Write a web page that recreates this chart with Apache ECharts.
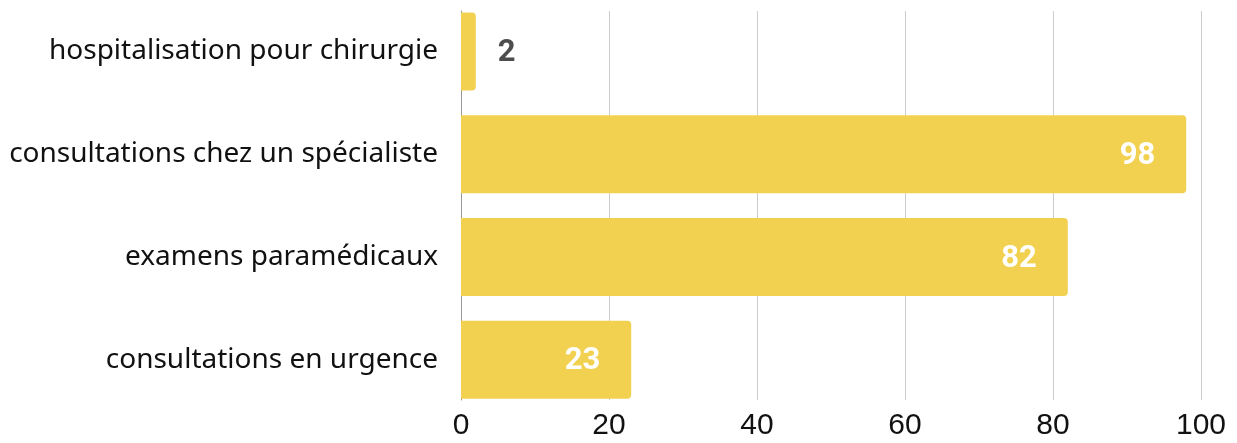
<!DOCTYPE html>
<html>
<head>
<meta charset="utf-8">
<script src="https://cdn.jsdelivr.net/npm/echarts@6/dist/echarts.min.js"></script>
<style>
  html, body { margin: 0; padding: 0; background: #fff; }
  #chart { width: 1237px; height: 443px; }
</style>
</head>
<body>
<div id="chart"></div>
<script>
  // categories, top to bottom
  let categories = [
    'hospitalisation pour chirurgie',
    'consultations chez un spécialiste',
    'examens paramédicaux',
    'consultations en urgence'
  ];
  let values = [2, 98, 82, 23];
  let ticks = [0, 20, 40, 60, 80, 100];

  let myChart = echarts.init(document.getElementById('chart'));

  let barData = [];
  for (let i = 0; i < values.length; i++) {
    let small = values[i] < 10;
    barData.push({
      value: values[i],
      label: {
        position: small ? 'right' : 'insideRight',
        distance: small ? 22 : 31,
        color: small ? '#4d4d4d' : '#ffffff'
      }
    });
  }

  myChart.setOption({
    animation: false,
    grid: [
      { left: 461, right: 36, top: 0, height: 411 },
      { left: 461, right: 36, top: 11, bottom: 43 }
    ],
    xAxis: [
      {
        gridIndex: 0,
        type: 'value',
        min: ticks[0],
        max: ticks[ticks.length - 1],
        interval: 20,
        show: false
      },
      {
        gridIndex: 1,
        type: 'value',
        min: ticks[0],
        max: ticks[ticks.length - 1],
        interval: 20,
        axisLine: { show: false },
        axisTick: { show: false },
        axisLabel: {
          margin: 11,
          color: '#111111',
          fontSize: 30,
          fontFamily: 'Liberation Sans'
        },
        splitLine: {
          lineStyle: { color: '#cccccc', width: 1 }
        }
      }
    ],
    yAxis: [
      {
        gridIndex: 0,
        type: 'category',
        inverse: true,
        data: categories,
        axisLine: { show: false },
        axisTick: { show: false },
        axisLabel: {
          margin: 23,
          color: '#111111',
          fontSize: 28,
          fontFamily: 'Noto Sans'
        }
      },
      {
        gridIndex: 1,
        type: 'value',
        axisLine: { show: true, lineStyle: { color: '#999999', width: 1 } },
        axisTick: { show: false },
        axisLabel: { show: false },
        splitLine: { show: false }
      }
    ],
    series: [
      {
        type: 'bar',
        xAxisIndex: 0,
        yAxisIndex: 0,
        data: barData,
        barWidth: 78,
        z: 3,
        itemStyle: {
          color: '#f3d150',
          borderRadius: [0, 4, 4, 0]
        },
        label: {
          show: true,
          fontSize: 31,
          fontWeight: 'bold',
          fontFamily: 'Roboto',
          offset: [0, 2]
        }
      }
    ]
  });
</script>
</body>
</html>
